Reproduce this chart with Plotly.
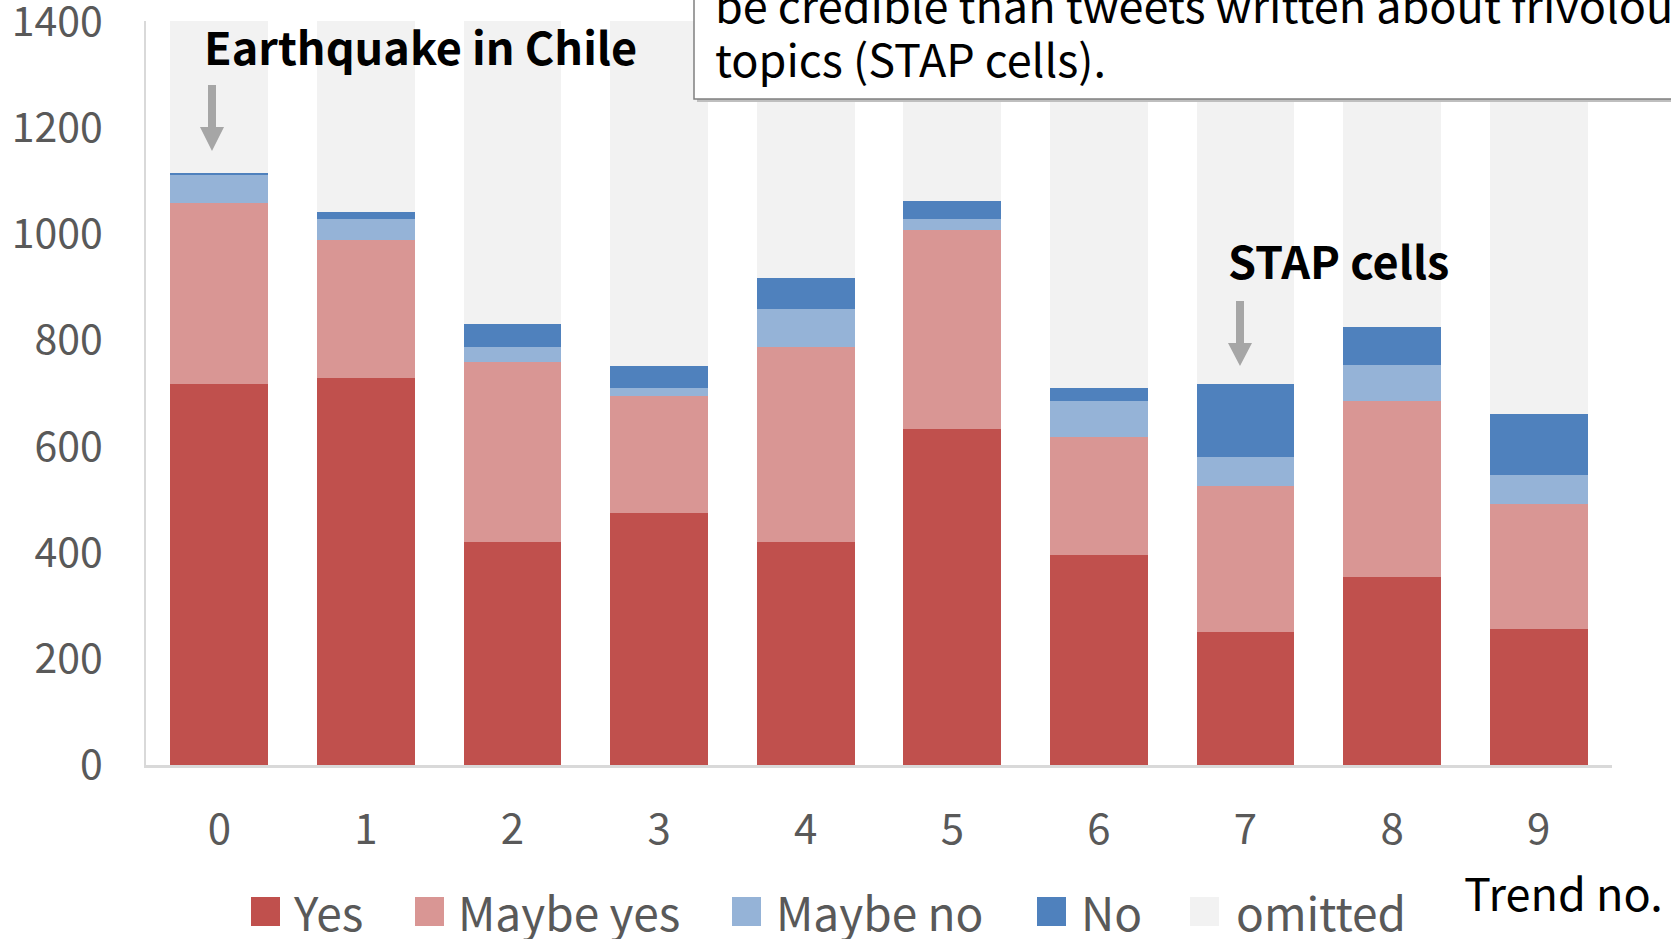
import plotly.graph_objects as go

# Credibility ratings per trend (stacked to the 1400 tweets sampled per trend)
trend = [0, 1, 2, 3, 4, 5, 6, 7, 8, 9]
yes = [718, 728, 420, 474, 420, 632, 396, 251, 353, 256]
maybe_yes = [339, 261, 338, 221, 366, 376, 222, 275, 332, 236]
maybe_no = [53, 38, 29, 14, 73, 19, 67, 54, 68, 54]
no = [4, 14, 43, 43, 57, 34, 24, 138, 71, 115]
omitted = [286, 359, 570, 648, 484, 339, 691, 682, 576, 739]
y_ticks = [0, 200, 400, 600, 800, 1000, 1200, 1400]

series = [
    ("Yes", yes, "#C0504D"),
    ("Maybe yes", maybe_yes, "#D99694"),
    ("Maybe no", maybe_no, "#95B3D7"),
    ("No", no, "#4F81BD"),
    ("omitted", omitted, "#F2F2F2"),
]

FONT = "Noto Sans CJK JP"
W, H = 1671, 939
L, R, T, B = 146, 1612, 21, 765  # plot area in pixels


def px(xp):
    return (xp - L) / (R - L)


def py(yp):
    return (B - yp) / (B - T)


fig = go.Figure()
for name, vals, color in series:
    fig.add_bar(x=trend, y=vals, name=name, marker_color=color,
                marker_line_width=0, width=0.667)

shapes = []
annotations = []

# Callout box running off the top/right edge
shapes.append(dict(type="rect", xref="paper", yref="paper", layer="above",
                   x0=px(697), x1=px(1700), y0=py(102), y1=py(-20),
                   fillcolor="#BFBFBF", line=dict(width=0)))
shapes.append(dict(type="rect", xref="paper", yref="paper", layer="above",
                   x0=px(694), x1=px(1700), y0=py(99), y1=py(-20),
                   fillcolor="white", line=dict(color="#808080", width=1.5)))

callout = [("be credible than tweets written about frivolous", 4),
           ("topics (STAP cells).", 58)]
for txt, yc in callout:
    annotations.append(dict(text=txt, xref="paper", yref="paper", x=px(713), y=py(yc),
                            xanchor="left", yanchor="middle", showarrow=False,
                            font=dict(family=FONT, size=45, color="#000000")))


# Block arrows pointing at the highlighted trends
def block_arrow(xc, top, base, tip, shaft=4, head=12):
    pts = [(xc - shaft, top), (xc + shaft, top), (xc + shaft, base), (xc + head, base),
           (xc, tip), (xc - head, base), (xc - shaft, base)]
    d = "M " + " L ".join(f"{px(a):.5f},{py(b):.5f}" for a, b in pts) + " Z"
    return dict(type="path", path=d, xref="paper", yref="paper", layer="above",
                fillcolor="#A6A6A6", line=dict(width=0))


shapes.append(block_arrow(212, 85, 127, 151))
shapes.append(block_arrow(1240, 301, 343, 366))

for txt, x0, yc in [("Earthquake in Chile", 202, 46), ("STAP cells", 1226, 259)]:
    annotations.append(dict(text=f"<b>{txt}</b>", xref="paper", yref="paper",
                            x=px(x0), y=py(yc), xanchor="left", yanchor="middle",
                            showarrow=False,
                            font=dict(family=FONT, size=45, color="#000000")))

annotations.append(dict(text="Trend no.", xref="paper", yref="paper", x=px(1462), y=py(891),
                        xanchor="left", yanchor="middle", showarrow=False,
                        font=dict(family=FONT, size=45, color="#000000")))

# Legend row
legend_pos = [(251, 293), (415, 458), (732, 776), (1037, 1081), (1190, 1236)]
for (name, _, color), (sx, tx) in zip(series, legend_pos):
    shapes.append(dict(type="rect", xref="paper", yref="paper",
                       x0=px(sx), x1=px(sx + 29), y0=py(926), y1=py(897),
                       fillcolor=color, line=dict(width=0)))
    annotations.append(dict(text=name, xref="paper", yref="paper", x=px(tx - 2), y=py(911),
                            xanchor="left", yanchor="middle", showarrow=False,
                            font=dict(family=FONT, size=46, color="#595959")))

fig.update_layout(
    width=W, height=H,
    margin=dict(l=L, r=W - R, t=T, b=H - B, pad=0),
    paper_bgcolor="white", plot_bgcolor="white",
    barmode="stack", showlegend=False,
    shapes=shapes, annotations=annotations,
    font=dict(family=FONT, color="#595959"),
)
fig.update_xaxes(range=[-0.5, 9.5], tickvals=trend, ticktext=[str(t) for t in trend],
                 showline=True, linecolor="#D9D9D9", linewidth=2.5, showgrid=False,
                 zeroline=False, ticks="", ticklabelstandoff=26, automargin=False,
                 ticklabeloverflow="allow",
                 tickfont=dict(family=FONT, size=42, color="#595959"))
fig.update_yaxes(range=[0, 1400.5], tickvals=y_ticks, ticktext=[str(v) for v in y_ticks],
                 showline=True, linecolor="#D9D9D9",
                 linewidth=2, showgrid=False, zeroline=False, ticks="",
                 ticklabelstandoff=33, automargin=False, ticklabeloverflow="allow",
                 tickfont=dict(family=FONT, size=41, color="#595959"))

fig.write_html("out.html")
